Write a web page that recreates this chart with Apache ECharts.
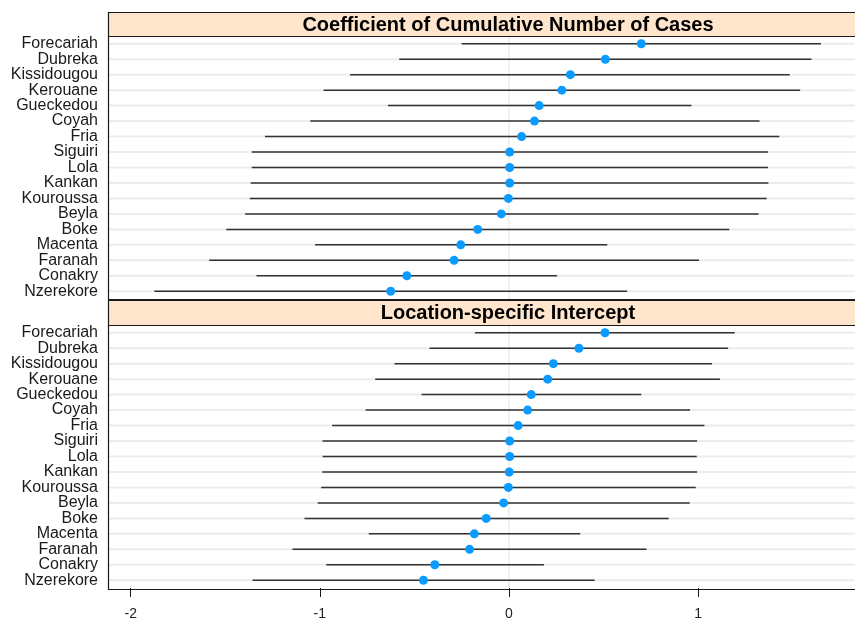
<!DOCTYPE html>
<html>
<head>
<meta charset="utf-8">
<script src="https://cdn.jsdelivr.net/npm/echarts@6/dist/echarts.min.js"></script>
<style>
  html, body { margin: 0; padding: 0; background: #fff; overflow: hidden; }
  #chart { width: 855px; height: 621px; }
</style>
</head>
<body>
<div id="chart"></div>
<script>
// Prefectures, top to bottom
const categories = ['Forecariah', 'Dubreka', 'Kissidougou', 'Kerouane', 'Gueckedou', 'Coyah', 'Fria',
  'Siguiri', 'Lola', 'Kankan', 'Kouroussa', 'Beyla', 'Boke', 'Macenta', 'Faranah', 'Conakry', 'Nzerekore'];

// Coefficient of cumulative number of cases: estimate and interval bounds
const cumulativeEst  = [0.70, 0.51, 0.325, 0.28, 0.16, 0.135, 0.067, 0.004, 0.004, 0.004, -0.003, -0.04, -0.165, -0.255, -0.29, -0.54, -0.625];
const cumulativeLow  = [-0.25, -0.58, -0.84, -0.98, -0.64, -1.05, -1.29, -1.36, -1.36, -1.365, -1.37, -1.395, -1.495, -1.025, -1.585, -1.335, -1.875];
const cumulativeHigh = [1.65, 1.60, 1.485, 1.54, 0.965, 1.325, 1.43, 1.37, 1.37, 1.372, 1.363, 1.32, 1.165, 0.52, 1.005, 0.255, 0.625];

// Location-specific intercept: estimate and interval bounds
const interceptEst  = [0.508, 0.37, 0.235, 0.205, 0.118, 0.099, 0.049, 0.004, 0.004, 0.002, -0.003, -0.028, -0.12, -0.183, -0.208, -0.392, -0.452];
const interceptLow  = [-0.18, -0.42, -0.605, -0.707, -0.462, -0.758, -0.935, -0.986, -0.985, -0.987, -0.993, -1.011, -1.081, -0.741, -1.145, -0.966, -1.356];
const interceptHigh = [1.194, 1.159, 1.074, 1.116, 0.70, 0.958, 1.034, 0.995, 0.993, 0.995, 0.988, 0.956, 0.845, 0.377, 0.728, 0.185, 0.453];

const xTicks = [-2, -1, 0, 1];
const panelTitles = ['Coefficient of Cumulative Number of Cases', 'Location-specific Intercept'];

// Visible part of a symmetric -2.12..2.12 panel; the strip continues past the right edge
const X_MIN = -2.12, X_MAX = 1.83;
const LEFT = 108, WIDTH = 747;
const FULL_WIDTH = 800;
const panels = [
  { stripTop: 12, top: 36, height: 263 },
  { stripTop: 300, top: 325, height: 264 }
];
const FONT = '"Liberation Sans", Arial, Helvetica, sans-serif';
const BORDER = '#1a1a1a';

const chart = echarts.init(document.getElementById('chart'), null, { renderer: 'canvas' });

const grids = panels.map(p => ({
  left: LEFT, top: p.top, width: WIDTH, height: p.height,
  show: false, containLabel: false
}));

const xAxes = panels.map((p, k) => ({
  type: 'value', gridIndex: k, min: X_MIN, max: X_MAX,
  splitLine: { show: false },
  axisLine: { show: false },
  axisTick: {
    show: k === 1, length: 9, customValues: xTicks,
    lineStyle: { color: BORDER, width: 1 }
  },
  axisLabel: {
    show: k === 1, customValues: xTicks, margin: 19,
    fontFamily: FONT, fontSize: 14, color: '#222'
  }
}));

const yAxes = panels.map((p, k) => ({
  type: 'category', gridIndex: k, data: categories, inverse: true,
  axisLine: { show: false }, axisTick: { show: false },
  splitLine: { show: false },
  axisLabel: { interval: 0, fontFamily: FONT, fontSize: 16, color: '#1a1a1a', margin: 10 }
}));

// Background guides: light horizontal rule per row plus a faint zero line
function guideRenderer(params, api) {
  const cs = params.coordSys;
  const i = api.value(0);
  const y = api.coord([0, i])[1];
  const children = [{
    type: 'line',
    shape: { x1: cs.x, y1: y, x2: cs.x + cs.width, y2: y },
    style: { stroke: '#ececec', lineWidth: 2 }
  }];
  if (params.dataIndex === 0) {
    const x0 = api.coord([0, 0])[0];
    children.push({
      type: 'line',
      shape: { x1: x0, y1: cs.y, x2: x0, y2: cs.y + cs.height },
      style: { stroke: '#e2e2e2', lineWidth: 1 },
      z2: 5
    });
  }
  return { type: 'group', children };
}

function intervalRenderer(params, api) {
  const i = api.value(2);
  const a = api.coord([api.value(0), i]);
  const b = api.coord([api.value(1), i]);
  return {
    type: 'line',
    shape: { x1: a[0], y1: a[1], x2: b[0], y2: b[1] },
    style: { stroke: '#333', lineWidth: 1.5 }
  };
}

const panelData = [
  { est: cumulativeEst, low: cumulativeLow, high: cumulativeHigh },
  { est: interceptEst, low: interceptLow, high: interceptHigh }
];

const series = [];
panelData.forEach((d, k) => {
  series.push({
    type: 'custom', xAxisIndex: k, yAxisIndex: k, z: 1, silent: true,
    renderItem: guideRenderer,
    encode: { x: -1, y: 0 },
    data: categories.map((c, i) => [i])
  });
  series.push({
    type: 'custom', xAxisIndex: k, yAxisIndex: k, z: 2, silent: true,
    renderItem: intervalRenderer,
    encode: { x: [0, 1], y: 2 },
    data: categories.map((c, i) => [d.low[i], d.high[i], i])
  });
  series.push({
    type: 'scatter', xAxisIndex: k, yAxisIndex: k, z: 3, silent: true,
    symbol: 'circle', symbolSize: 9,
    itemStyle: { color: '#0b9bff', opacity: 1 },
    data: categories.map((c, i) => [d.est[i], i])
  });
});

// Panel strips with titles, and panel frames (left and bottom edges)
const graphic = [];
panels.forEach((p, k) => {
  graphic.push({
    type: 'rect', z: 10,
    shape: { x: LEFT + 0.5, y: p.stripTop + 0.5, width: FULL_WIDTH, height: p.top - p.stripTop },
    style: { fill: '#ffe5cc', stroke: BORDER, lineWidth: 1.2 }
  });
  graphic.push({
    type: 'text', z: 11,
    x: LEFT + FULL_WIDTH / 2, y: (p.stripTop + p.top) / 2 + 1,
    style: {
      text: panelTitles[k], fontFamily: FONT, fontWeight: 'bold', fontSize: 20,
      fill: '#000', align: 'center', verticalAlign: 'middle'
    }
  });
  graphic.push({
    type: 'line', z: 10,
    shape: { x1: LEFT + 0.5, y1: p.top, x2: LEFT + 0.5, y2: p.top + p.height + 0.5 },
    style: { stroke: BORDER, lineWidth: 1.2 }
  });
  graphic.push({
    type: 'line', z: 10,
    shape: { x1: LEFT, y1: p.top + p.height + 0.5, x2: LEFT + FULL_WIDTH, y2: p.top + p.height + 0.5 },
    style: { stroke: BORDER, lineWidth: 1.2 }
  });
});

chart.setOption({
  animation: false,
  backgroundColor: '#fff',
  grid: grids,
  xAxis: xAxes,
  yAxis: yAxes,
  series,
  graphic
});
</script>
</body>
</html>
